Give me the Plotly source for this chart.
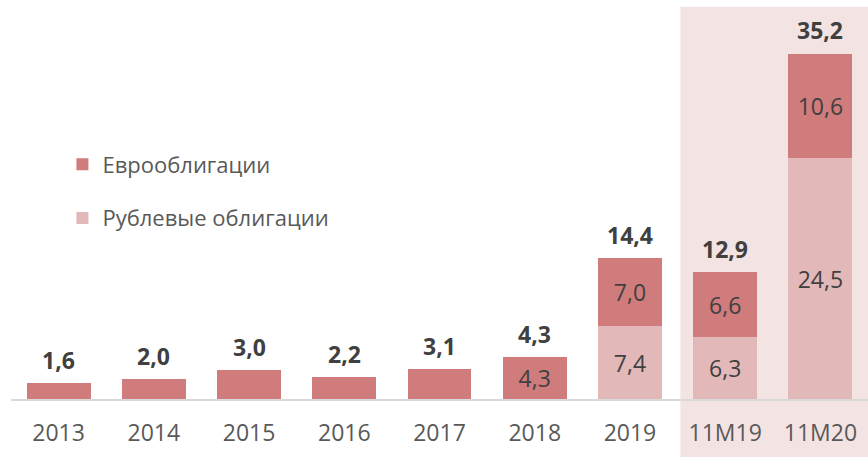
import plotly.graph_objects as go

categories = ["2013", "2014", "2015", "2016", "2017", "2018", "2019", "11M19", "11M20"]
euro_values = [1.6, 2.0, 3.0, 2.2, 3.1, 4.3, 7.0, 6.6, 10.6]
ruble_values = [0, 0, 0, 0, 0, 0, 7.4, 6.3, 24.5]
totals = [1.6, 2.0, 3.0, 2.2, 3.1, 4.3, 14.4, 12.9, 35.2]
euro_inner_shown = [False, False, False, False, False, True, True, True, True]

def fmt(v):
    return f"{v:.1f}".replace(".", ",")

FONT = "Open Sans"
EURO_C = "#d07b7c"
RUB_C = "#e2b8b8"

fig = go.Figure()
fig.add_trace(go.Bar(
    x=categories, y=ruble_values, name="Рублевые облигации",
    marker=dict(color=RUB_C, line=dict(width=0)),
    text=[fmt(v) if v > 0 else "" for v in ruble_values],
    textposition="inside", insidetextanchor="middle",
    textfont=dict(family=FONT, size=23, color="#404040"),
    legendgroup="r", legendrank=2,
))
fig.add_trace(go.Bar(
    x=categories, y=euro_values, name="Еврооблигации",
    marker=dict(color=EURO_C, line=dict(width=0)),
    text=[fmt(v) if s else "" for v, s in zip(euro_values, euro_inner_shown)],
    textposition="inside", insidetextanchor="middle",
    textfont=dict(family=FONT, size=23, color="#404040"),
    legendgroup="e", legendrank=1,
))

for i, t in enumerate(totals):
    fig.add_annotation(x=i, y=t, xref="x", yref="y", text=f"<b>{fmt(t)}</b>", showarrow=False,
                       yanchor="bottom", yshift=5,
                       font=dict(family=FONT, size=23, color="#404040"))

fig.add_shape(type="rect", xref="x", yref="paper", x0=6.53, x1=8.6, y0=-0.16, y1=0.998,
              fillcolor="#f4e3e3", line=dict(width=0), layer="below")

fig.update_layout(
    width=868, height=457,
    margin=dict(l=11, r=0, t=6, b=58, autoexpand=False),
    barmode="stack", bargap=0.33,
    plot_bgcolor="white", paper_bgcolor="white",
    showlegend=True,
    legend=dict(x=0.06, y=0.528, xanchor="left", yanchor="middle",
                font=dict(family=FONT, size=22, color="#595959"),
                tracegroupgap=22, bgcolor="rgba(0,0,0,0)", itemclick=False),
    xaxis=dict(type="category", range=[-0.5, 8.5], showgrid=False, automargin=False,
               showline=True, linecolor="#d9d9d9", linewidth=2,
               ticks="", ticklabelstandoff=12,
               tickfont=dict(family=FONT, size=23, color="#595959")),
    yaxis=dict(range=[0, 40], visible=False, showgrid=False, zeroline=False),
)

fig.write_html("out.html", post_script="document.body.style.margin='0';",
               config={"displayModeBar": False})
